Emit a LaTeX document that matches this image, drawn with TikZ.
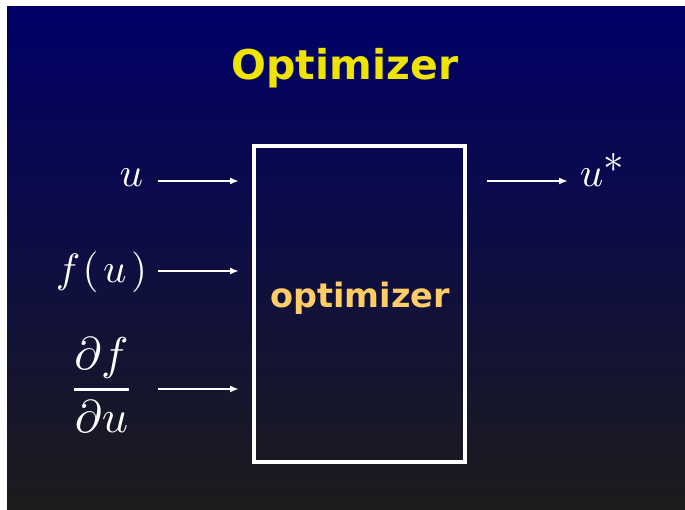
\documentclass[tikz,border=0pt]{standalone}
\usepackage{fontspec}
\usepackage{amsmath}
\newfontfamily\slidesans{DejaVu Sans}
\usetikzlibrary{arrows.meta}
\definecolor{navytop}{RGB}{0,0,104}
\definecolor{graybot}{RGB}{28,28,28}
\definecolor{titleyellow}{RGB}{238,228,0}
\definecolor{innerorange}{RGB}{255,204,102}
\tikzset{
  mathlabel/.style={text=white, inner sep=0pt, scale=4.1},
  flowarrow/.style={draw=white, line width=2.4pt, -{Latex[length=9pt,width=7pt]}},
  optbox/.style={draw=white, line width=3.5pt}
}
\begin{document}
\begin{tikzpicture}[x=1pt,y=-1pt]
\useasboundingbox (0,0) rectangle (685,510);
\fill[white] (0,0) rectangle (685,510);
\shade[top color=navytop, bottom color=graybot] (7,7) rectangle (685,510);
\node[anchor=base, inner sep=0pt, text=titleyellow, font=\slidesans\bfseries\fontsize{41}{48}\selectfont] (title) at (345,80) {Optimizer};
\draw[optbox] (254,146) rectangle (465,462);
\node[anchor=base, inner sep=0pt, text=innerorange, font=\slidesans\bfseries\fontsize{33.5}{40}\selectfont] (inner) at (360,308) {optimizer};
\node[mathlabel, anchor=base east] (lu) at (144,187) {$u$};
\node[mathlabel, anchor=base east] (lf) at (148,283) {$f\mkern1mu(\mkern2mu u\mkern2mu)$};
\node[mathlabel, scale=1.12, anchor=base] (ld) at (101.5,401) {$\genfrac{}{}{0.55pt}{0}{\partial f}{\partial u}$};
\node[mathlabel, anchor=base west] (lo) at (579,187) {$u^{\textstyle *}$};
\coordinate (a1s) at (158,181); \coordinate (a1e) at (239,181);
\coordinate (a2s) at (158,271); \coordinate (a2e) at (239,271);
\coordinate (a3s) at (158,389); \coordinate (a3e) at (239,389);
\coordinate (a4s) at (487,181); \coordinate (a4e) at (568,181);
\draw[flowarrow] (a1s) -- (a1e);
\draw[flowarrow] (a2s) -- (a2e);
\draw[flowarrow] (a3s) -- (a3e);
\draw[flowarrow] (a4s) -- (a4e);
\end{tikzpicture}
\end{document}
